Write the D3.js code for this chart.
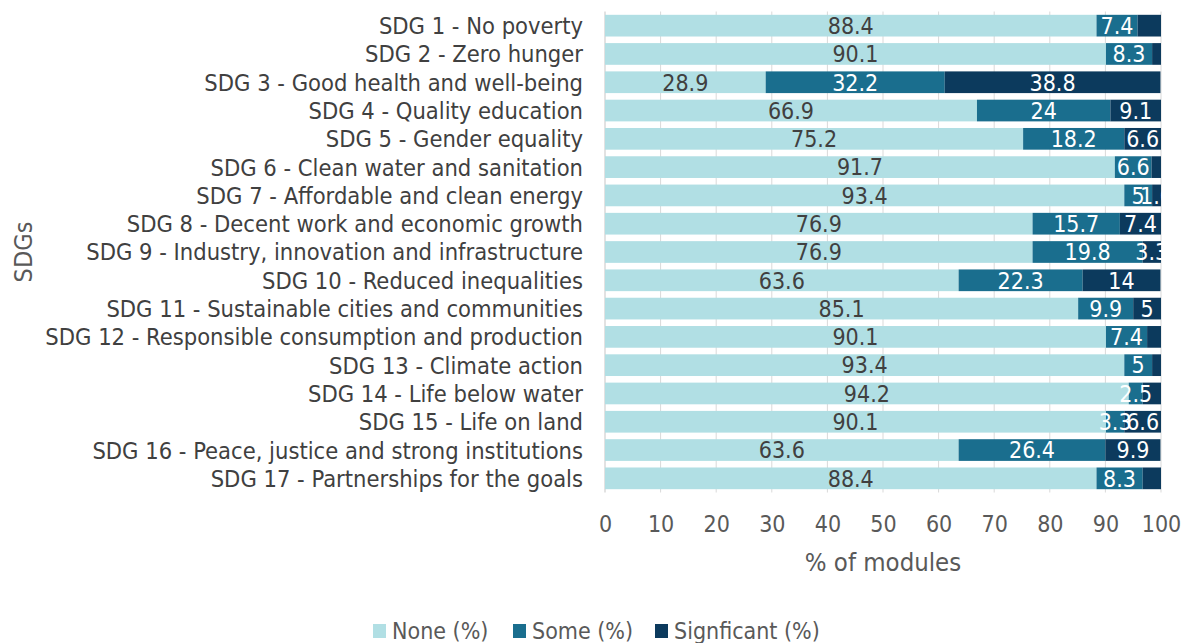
<!DOCTYPE html>
<html><head><meta charset="utf-8">
<script src="https://cdn.jsdelivr.net/npm/d3@7"></script>
<style>
html,body{margin:0;padding:0;background:#fff;}
svg text{font-family:"DejaVu Sans Condensed","DejaVu Sans",sans-serif;}
</style></head>
<body>
<svg id="chart" width="1187" height="643"></svg>
<script>
const categories = [
  "SDG 1 - No poverty","SDG 2 - Zero hunger","SDG 3 - Good health and well-being",
  "SDG 4 - Quality education","SDG 5 - Gender equality","SDG 6 - Clean water and sanitation",
  "SDG 7 - Affordable and clean energy","SDG 8 - Decent work and economic growth",
  "SDG 9 - Industry, innovation and infrastructure","SDG 10 - Reduced inequalities",
  "SDG 11 - Sustainable cities and communities","SDG 12 - Responsible consumption and production",
  "SDG 13 - Climate action","SDG 14 - Life below water","SDG 15 - Life on land",
  "SDG 16 - Peace, justice and strong institutions","SDG 17 - Partnerships for the goals"
];
const noneValues = [88.4,90.1,28.9,66.9,75.2,91.7,93.4,76.9,76.9,63.6,85.1,90.1,93.4,94.2,90.1,63.6,88.4];
const someValues = [7.4,8.3,32.2,24,18.2,6.6,5,15.7,19.8,22.3,9.9,7.4,5,2.5,3.3,26.4,8.3];
const significantValues = [4.2,1.6,38.8,9.1,6.6,1.7,1.6,7.4,3.3,14,5,2.5,1.6,3.3,6.6,9.9,3.3];
// which data labels are displayed in the reference
const showSomeLabel = [1,1,1,1,1,1,1,1,1,1,1,1,1,1,1,1,1];
const showSignificantLabel = [0,0,1,1,1,0,1,1,1,1,1,0,0,0,1,1,0];
const seriesNames = ["None (%)","Some (%)","Signficant (%)"];
const xTicks = [0,10,20,30,40,50,60,70,80,90,100];

const colors = ["#b1dfe4","#1a6e8e","#0c3a5d"];
const labelColors = ["#404040","#ffffff","#ffffff"];

const svg = d3.select("#chart");
const plot = {left:605, right:1161, top:11.5, bottom:492.5};
const FS = 23;

const x = d3.scaleLinear().domain([0,100]).range([plot.left, plot.right]);
const y = d3.scaleBand().domain(categories).range([plot.top, plot.bottom]).paddingInner(0.233).paddingOuter(0.117);

// gridlines
svg.append("g").selectAll("line").data(xTicks).join("line")
  .attr("x1", d=>x(d)).attr("x2", d=>x(d))
  .attr("y1", plot.top).attr("y2", plot.bottom)
  .attr("stroke", "#d9d9d9").attr("stroke-width", d=>d===0?1.5:1);

const rows = categories.map((c,i)=>{
  const vals = [noneValues[i], someValues[i], significantValues[i]];
  const show = [1, showSomeLabel[i], showSignificantLabel[i]];
  let acc = 0;
  return vals.map((v,k)=>{ const s = {cat:c, k, v, x0:acc, x1:acc+v, show:show[k]}; acc += v; return s; });
});
const segs = rows.flat();

svg.append("g").selectAll("rect").data(segs).join("rect")
  .attr("x", d=>x(d.x0)).attr("width", d=>Math.max(0, x(Math.min(100,d.x1))-x(d.x0)))
  .attr("y", d=>y(d.cat)).attr("height", y.bandwidth())
  .attr("fill", d=>colors[d.k]);

svg.append("defs").append("clipPath").attr("id","clipR")
  .append("rect").attr("x",0).attr("y",0).attr("width",1163).attr("height",643);

svg.append("g").attr("clip-path","url(#clipR)").selectAll("text").data(segs.filter(d=>d.show)).join("text")
  .attr("x", d=>x((d.x0+d.x1)/2)).attr("y", d=>y(d.cat)+y.bandwidth()/2)
  .attr("dy","0.36em").attr("text-anchor","middle")
  .attr("font-size", FS).attr("fill", d=>labelColors[d.k])
  .text(d=>d.v);

// category labels
svg.append("g").selectAll("text").data(categories).join("text")
  .attr("x", plot.left-22).attr("y", d=>y(d)+y.bandwidth()/2).attr("dy","0.36em")
  .attr("text-anchor","end").attr("font-size",23.5).attr("fill","#404040").text(d=>d);

// x axis tick labels
const xAxis = d3.axisBottom(x).tickValues(xTicks).tickSize(0).tickPadding(0);
const gx = svg.append("g").attr("transform",`translate(0,${plot.bottom})`).call(xAxis);
gx.select(".domain").remove();
gx.selectAll("text").attr("y", 31).attr("dy","0.36em").attr("font-size",FS).attr("fill","#595959")
  .attr("font-family",'"DejaVu Sans Condensed","DejaVu Sans",sans-serif');

svg.append("text").attr("x",(plot.left+plot.right)/2).attr("y",562).attr("dy","0.36em")
  .attr("text-anchor","middle").attr("font-size",25.5).attr("fill","#595959").text("% of modules");

svg.append("text").attr("transform",`translate(23,${(plot.top+plot.bottom)/2}) rotate(-90)`)
  .attr("dy","0.36em").attr("text-anchor","middle").attr("font-size",25).attr("fill","#595959").text("SDGs");

// legend
const legendX = [373, 513, 655];
const lg = svg.append("g").selectAll("g").data(seriesNames).join("g")
  .attr("transform",(d,i)=>`translate(${legendX[i]},624)`);
lg.append("rect").attr("width",13).attr("height",14).attr("fill",(d,i)=>colors[i]);
lg.append("text").attr("x",19).attr("y",7).attr("dy","0.36em").attr("font-size",FS).attr("fill","#595959").text(d=>d);
</script>
</body></html>
